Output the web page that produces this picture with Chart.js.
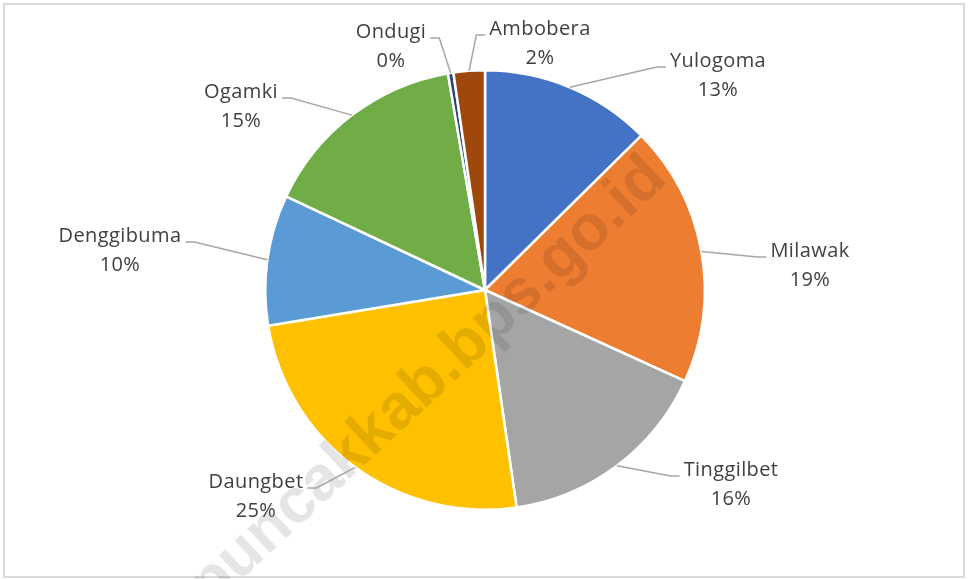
<!DOCTYPE html>
<html>
<head>
<meta charset="utf-8">
<title>Distrik</title>
<script src="https://cdn.jsdelivr.net/npm/chart.js@4.4.0/dist/chart.umd.min.js"></script>
<style>
  html, body { margin: 0; padding: 0; background: #fff; }
  #wrap { width: 968px; height: 579px; }
</style>
</head>
<body>
<div id="wrap"><canvas id="pie" width="968" height="579"></canvas></div>
<script>
const regions = ['Yulogoma', 'Milawak', 'Tinggilbet', 'Daungbet', 'Denggibuma', 'Ogamki', 'Ondugi', 'Ambobera'];
const shares = [12.6, 19.2, 15.9, 24.7, 9.6, 15.3, 0.4, 2.3];
const sliceColors = ['#4472C4', '#ED7D31', '#A5A5A5', '#FFC000', '#5B9BD5', '#70AD47', '#264478', '#9E480E'];

// label spots as Excel placed them, offset from the pie centre (centre of the name line)
const labelOffsets = [[233, -229], [325, -39], [246, 180], [-229, 192], [-365, -54], [-244, -198], [-94, -258], [55, -261]];

const frame = {
  id: 'frame',
  beforeDraw(chart) {
    const ctx = chart.ctx;
    ctx.save();
    ctx.fillStyle = '#fff';
    ctx.fillRect(0, 0, chart.width, chart.height);
    ctx.strokeStyle = '#D9D9D9';
    ctx.lineWidth = 2;
    ctx.strokeRect(4, 4, 960, 573);
    ctx.restore();
  }
};

const outsideLabels = {
  id: 'outsideLabels',
  afterDatasetsDraw(chart) {
    const ctx = chart.ctx;
    const meta = chart.getDatasetMeta(0);
    const total = shares.reduce((a, b) => a + b, 0);

    // watermark
    ctx.save();
    ctx.translate(428, 382);
    ctx.rotate(-43 * Math.PI / 180);
    ctx.font = 'bold 63px "Liberation Sans"';
    ctx.fillStyle = 'rgba(0, 0, 0, 0.1)';
    ctx.textAlign = 'center';
    ctx.textBaseline = 'middle';
    ctx.fillText('puncakkab.bps.go.id', 0, 0);
    ctx.restore();

    ctx.save();
    ctx.font = '20px "Open Sans"';
    ctx.letterSpacing = '0.4px';
    meta.data.forEach((arc, i) => {
      const { x, y, startAngle, endAngle, outerRadius } = arc.getProps(['x', 'y', 'startAngle', 'endAngle', 'outerRadius'], true);
      const mid = (startAngle + endAngle) / 2;
      const ax = x + Math.cos(mid) * outerRadius;
      const ay = y + Math.sin(mid) * outerRadius;
      const lx = x + labelOffsets[i][0];
      const ly = y + labelOffsets[i][1];
      const name = regions[i];
      const pct = Math.round(shares[i] / total * 100) + '%';
      const w = ctx.measureText(name).width;
      const onRight = lx > x;
      const edge = onRight ? lx - w / 2 - 4 : lx + w / 2 + 4;
      const elbow = onRight ? edge - 9 : edge + 9;
      const lineY = ly + 6;

      ctx.strokeStyle = '#A6A6A6';
      ctx.lineWidth = 1.5;
      ctx.beginPath();
      ctx.moveTo(ax, ay);
      ctx.lineTo(elbow, lineY);
      ctx.lineTo(edge, lineY);
      ctx.stroke();

      ctx.fillStyle = '#404040';
      ctx.textAlign = 'center';
      ctx.textBaseline = 'middle';
      ctx.fillText(name, lx, ly);
      ctx.fillText(pct, lx, ly + 29);
    });
    ctx.restore();
  }
};

new Chart(document.getElementById('pie'), {
  type: 'pie',
  data: {
    labels: regions,
    datasets: [{
      data: shares,
      backgroundColor: sliceColors,
      borderColor: '#fff',
      borderWidth: 2.5
    }]
  },
  options: {
    responsive: false,
    animation: false,
    layout: { padding: { top: 69, bottom: 68, left: 2, right: 0 } },
    plugins: {
      legend: { display: false },
      tooltip: { enabled: false }
    }
  },
  plugins: [frame, outsideLabels]
});
</script>
</body>
</html>
